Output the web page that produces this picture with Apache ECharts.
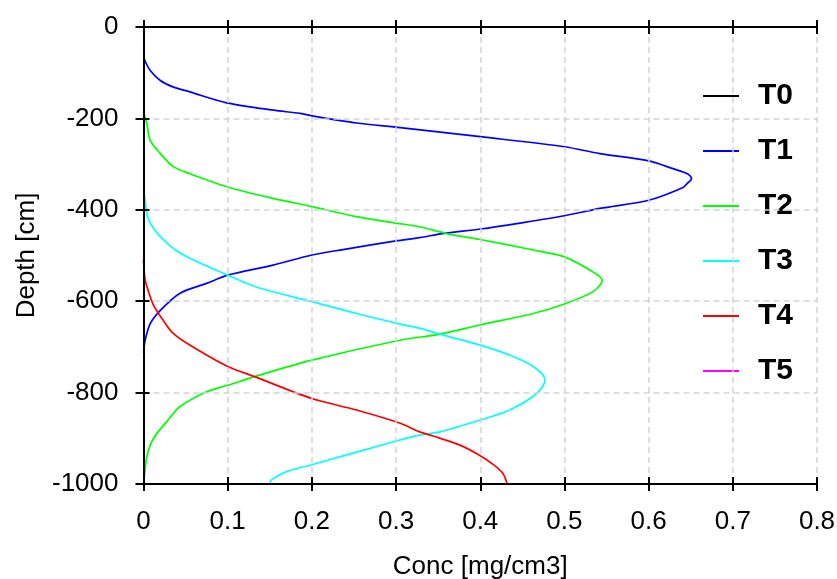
<!DOCTYPE html>
<html>
<head>
<meta charset="utf-8">
<script src="https://cdn.jsdelivr.net/npm/echarts@6/dist/echarts.min.js"></script>
<style>
html,body{margin:0;padding:0;background:#fff;}
#chart{width:837px;height:579px;}
</style>
</head>
<body>
<div id="chart"></div>
<script>
// ---- data ----
var seriesNames = ['T0', 'T1', 'T2', 'T3', 'T4', 'T5'];
var seriesColors = ['#000000', '#0000ff', '#00ff00', '#00ffff', '#ff0000', '#ff00ff'];

var t0Depth = [];
var t0Conc = [];

var t1Depth = [-62, -75, -95, -117, -131, -142, -166, -182, -189, -195, -210, -220, -240, -262, -277, -293, -310, -322, -332, -342, -351, -379, -397, -413, -429, -442, -452, -461, -468, -487, -499, -521, -543, -561, -583, -620, -649, -685, -713];
var t1Conc  = [0, 0.002, 0.008, 0.020, 0.035, 0.055, 0.099, 0.154, 0.186, 0.202, 0.253, 0.305, 0.400, 0.500, 0.542, 0.600, 0.629, 0.647, 0.651, 0.646, 0.641, 0.600, 0.542, 0.500, 0.447, 0.400, 0.355, 0.328, 0.300, 0.237, 0.200, 0.154, 0.100, 0.075, 0.043, 0.020, 0.008, 0.002, 0];

var t2Depth = [-186, -211, -248, -277, -305, -321, -350, -375, -393, -415, -429, -437, -452, -465, -488, -503, -536, -554, -579, -606, -627, -652, -672, -687, -729, -765, -784, -798, -831, -856, -900, -940, -984, -1000];
var t2Conc  = [0, 0.004, 0.008, 0.020, 0.035, 0.055, 0.100, 0.154, 0.200, 0.253, 0.300, 0.328, 0.360, 0.400, 0.463, 0.500, 0.534, 0.545, 0.534, 0.500, 0.463, 0.400, 0.352, 0.300, 0.200, 0.132, 0.100, 0.075, 0.043, 0.031, 0.012, 0.004, 0.001, 0];

var t3Depth = [-350, -380, -415, -441, -466, -488, -506, -543, -569, -601, -627, -650, -659, -672, -696, -718, -743, -773, -802, -838, -860, -886, -893, -906, -958, -973, -991, -1000];
var t3Conc  = [0, 0.002, 0.005, 0.012, 0.024, 0.038, 0.055, 0.100, 0.134, 0.200, 0.253, 0.305, 0.328, 0.352, 0.400, 0.435, 0.463, 0.477, 0.467, 0.435, 0.400, 0.352, 0.328, 0.300, 0.200, 0.170, 0.152, 0.150];

var t4Depth = [-509, -554, -579, -609, -638, -670, -696, -743, -765, -813, -838, -867, -886, -895, -915, -936, -958, -977, -1000];
var t4Conc  = [0, 0.002, 0.006, 0.012, 0.022, 0.035, 0.055, 0.100, 0.132, 0.200, 0.253, 0.305, 0.328, 0.344, 0.376, 0.398, 0.416, 0.427, 0.432];

var t5Depth = [];
var t5Conc = [];

var xTicks = { min: 0, max: 0.8, interval: 0.1 };
var yTicks = { min: -1000, max: 0, interval: 200 };
var xTitle = 'Conc [mg/cm3]';
var yTitle = 'Depth [cm]';

// ---- build ----
function zip(c, d) {
  var out = [];
  for (var i = 0; i < c.length; i++) out.push([c[i], d[i]]);
  return out;
}
var allData = [
  zip(t0Conc, t0Depth), zip(t1Conc, t1Depth), zip(t2Conc, t2Depth),
  zip(t3Conc, t3Depth), zip(t4Conc, t4Depth), zip(t5Conc, t5Depth)
];

var FONT = '"Liberation Sans", Arial, sans-serif';
var gridRect = { left: 143.5, right: 20, top: 27, bottom: 95, containLabel: false, outerBoundsMode: 'none' };
var axisLineStyle = { color: '#000', width: 2 };
var tickStyle = { color: '#000', width: 2 };
var splitStyle = { type: [6, 4], color: '#d4d4d4', width: 1.5 };

var chart = echarts.init(document.getElementById('chart'), null, { renderer: 'canvas' });

var series = seriesNames.map(function (n, i) {
  return {
    name: n,
    type: 'line',
    xAxisIndex: 0,
    yAxisIndex: 0,
    data: allData[i],
    symbol: 'none',
    smooth: 0.3,
    color: seriesColors[i],
    lineStyle: { color: seriesColors[i], width: 1.7 },
    animation: false,
    z: 3
  };
});

var option = {
  animation: false,
  backgroundColor: '#fff',
  grid: [
    Object.assign({}, gridRect),
    Object.assign({}, gridRect)
  ],
  legend: {
    data: seriesNames,
    orient: 'vertical',
    left: 702,
    top: 81,
    padding: 0,
    itemWidth: 36,
    itemHeight: 14,
    itemGap: 25,
    itemStyle: { opacity: 0 },
    textStyle: { fontFamily: FONT, fontSize: 30, fontWeight: 'bold', color: '#000', padding: [0, 0, 0, 14] }
  },
  xAxis: [
    {
      gridIndex: 0, type: 'value', position: 'bottom',
      min: xTicks.min, max: xTicks.max, interval: xTicks.interval,
      name: xTitle, nameLocation: 'middle', nameGap: 70,
      nameTextStyle: { fontFamily: FONT, fontSize: 26, color: '#000' },
      axisLine: { show: true, onZero: false, lineStyle: axisLineStyle },
      axisTick: { show: true, length: 7, inside: false, lineStyle: tickStyle },
      axisLabel: { show: true, margin: 25, fontFamily: FONT, fontSize: 26, color: '#000' },
      splitLine: { show: true, lineStyle: splitStyle },
      z: 5
    },
    {
      gridIndex: 0, type: 'value', position: 'top',
      min: xTicks.min, max: xTicks.max, interval: xTicks.interval,
      axisLine: { show: true, onZero: false, lineStyle: axisLineStyle },
      axisTick: { show: true, length: 7, inside: false, lineStyle: tickStyle },
      axisLabel: { show: false },
      splitLine: { show: false },
      z: 5
    },
    {
      gridIndex: 1, type: 'value', position: 'bottom',
      min: xTicks.min, max: xTicks.max, interval: xTicks.interval,
      axisLine: { show: false, onZero: false },
      axisTick: { show: true, length: 7, inside: true, lineStyle: tickStyle },
      axisLabel: { show: false },
      splitLine: { show: false },
      z: 5
    },
    {
      gridIndex: 1, type: 'value', position: 'top',
      min: xTicks.min, max: xTicks.max, interval: xTicks.interval,
      axisLine: { show: false, onZero: false },
      axisTick: { show: true, length: 7, inside: true, lineStyle: tickStyle },
      axisLabel: { show: false },
      splitLine: { show: false },
      z: 5
    }
  ],
  yAxis: [
    {
      gridIndex: 0, type: 'value', position: 'left',
      min: yTicks.min, max: yTicks.max, interval: yTicks.interval,
      name: yTitle, nameLocation: 'middle', nameGap: 104,
      nameTextStyle: { fontFamily: FONT, fontSize: 26, color: '#000' },
      axisLine: { show: true, onZero: false, lineStyle: axisLineStyle },
      axisTick: { show: true, length: 8, inside: false, lineStyle: tickStyle },
      axisLabel: { show: true, margin: 25, fontFamily: FONT, fontSize: 26, color: '#000',
        formatter: function (v) { return String(v); } },
      splitLine: { show: true, lineStyle: splitStyle },
      z: 5
    },
    {
      gridIndex: 1, type: 'value', position: 'left',
      min: yTicks.min, max: yTicks.max, interval: yTicks.interval,
      axisLine: { show: false, onZero: false },
      axisTick: { show: true, length: 6, inside: true, lineStyle: tickStyle },
      axisLabel: { show: false },
      splitLine: { show: false },
      z: 5
    }
  ],
  series: series
};
chart.setOption(option);
</script>
</body>
</html>
